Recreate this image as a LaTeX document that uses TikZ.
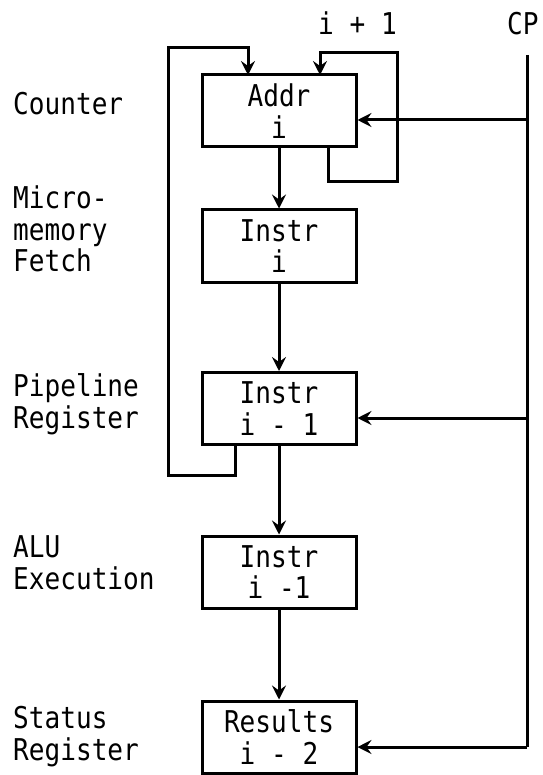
\documentclass[tikz,border=0pt]{standalone}
\usepackage{fontspec}
\setmainfont[FakeStretch=0.87]{DejaVu Sans Mono}
\usetikzlibrary{arrows.meta}
\begin{document}
\begin{tikzpicture}[x=1pt,y=-1pt,
  every node/.style={font=\fontsize{30}{31.5}\selectfont, inner sep=0pt},
  stage/.style={draw, line width=3pt, minimum width=154pt, minimum height=72pt, align=center},
  lbl/.style={anchor=base west, align=left},
  wire/.style={line width=3pt},
  flow/.style={wire, -{Stealth[length=14pt,width=14pt,inset=5pt]}}]
\useasboundingbox (0,0) rectangle (542,775);
% stages
\node[stage] (addr) at (279,111) {Addr\\i};
\node[stage] (fetch) at (279,246) {Instr\\i};
\node[stage] (pipe) at (279,408.5) {Instr\\i - 1};
\node[stage] (alu) at (279,572) {Instr\\i -1};
\node[stage] (res) at (279,737) {Results\\i - 2};
% left labels (anchored at the baseline of their last line)
\node[lbl] (lcounter) at (13,115) {Counter};
\node[lbl] (lfetch) at (13,272) {Micro-\\memory\\Fetch};
\node[lbl] (lpipe) at (13,428) {Pipeline\\Register};
\node[lbl] (lalu) at (13,589) {ALU\\Execution};
\node[lbl] (lstatus) at (13,760) {Status\\Register};
% top labels
\node[lbl] (inc) at (318,35) {i + 1};
\node[lbl] (cp) at (507,35) {CP};
% main flow
\draw[flow] (addr.south) -- (fetch.north);
\draw[flow] (fetch.south) -- (pipe.north);
\draw[flow] (pipe.south) -- (alu.north);
\draw[flow] (alu.south) -- (res.north);
% loops
\coordinate (pout) at (235,444.5);
\coordinate (ain1) at (248,75);
\coordinate (aout) at (328,147);
\coordinate (ain2) at (320,75);
\draw[flow] (pout) |- (168,475) |- (248,48) -- (ain1);
\draw[flow] (aout) |- (397,182) |- (320,53) -- (ain2);
% clock line
\coordinate (cptop) at (527,55);
\coordinate (cpbot) at (527,747);
\draw[wire] (cptop) -- (cpbot);
\draw[flow] (cpbot) -- (res.east |- cpbot);
\draw[flow] (527,120) -- (addr.east |- 0,120);
\draw[flow] (527,418) -- (pipe.east |- 0,418);
\end{tikzpicture}
\end{document}
